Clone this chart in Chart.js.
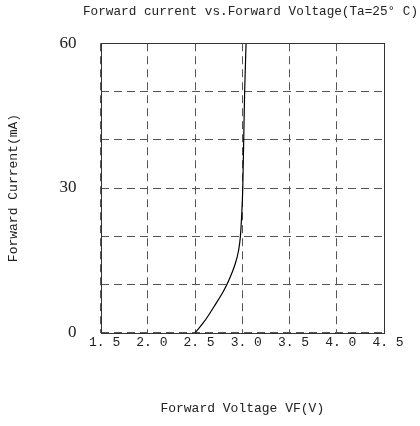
<!DOCTYPE html>
<html>
<head>
<meta charset="utf-8">
<script src="https://cdn.jsdelivr.net/npm/chart.js@4.4.1/dist/chart.umd.min.js"></script>
<style>
html,body{margin:0;padding:0;background:#fff;}
#wrap{width:420px;height:426px;}
</style>
</head>
<body>
<div id="wrap"><canvas id="c" width="420" height="426"></canvas></div>
<script>
const voltage = [2.5, 2.6, 2.7, 2.8, 2.86, 2.92, 2.96, 2.98, 2.995, 3.005, 3.015, 3.025, 3.04];
const current = [0, 2.4, 5.4, 8.6, 11, 14, 17, 20, 25, 30, 40, 50, 60];
const xTickLabels = ['1. 5', '2. 0', '2. 5', '3. 0', '3. 5', '4. 0', '4. 5'];
const yTickLabels = {0: '0', 30: '30', 60: '60'};
const chartTitle = 'Forward current vs.Forward Voltage(Ta=25° C)';
const xTitle = 'Forward Voltage VF(V)';
const yTitle = 'Forward Current(mA)';

const points = voltage.map((v, i) => ({x: v, y: current[i]}));

const frame = {
  id: 'frame',
  afterDatasetsDraw(chart) {
    const a = chart.chartArea, ctx = chart.ctx;
    ctx.save();
    ctx.strokeStyle = '#333';
    ctx.lineWidth = 1;
    ctx.setLineDash([]);
    ctx.strokeRect(Math.round(a.left) + 0.5, Math.round(a.top) + 0.5, Math.round(a.right - a.left), Math.round(a.bottom - a.top));
    ctx.restore();
  }
};

new Chart(document.getElementById('c'), {
  type: 'scatter',
  data: {
    datasets: [{
      data: points,
      showLine: true,
      borderColor: '#000',
      borderWidth: 1.2,
      pointRadius: 0,
      cubicInterpolationMode: 'monotone',
      fill: false
    }]
  },
  options: {
    responsive: false,
    animation: false,
    layout: {padding: {left: 6, right: 2, top: 0, bottom: 10}},
    plugins: {
      legend: {display: false},
      tooltip: {enabled: false},
      title: {
        display: true,
        text: chartTitle,
        align: 'end',
        color: '#222',
        font: {family: 'Liberation Mono', size: 12.7, weight: 'normal'},
        padding: {top: 4, bottom: 24}
      }
    },
    scales: {
      x: {
        type: 'linear',
        min: 1.5, max: 4.5,
        grid: {color: '#555', lineWidth: 1, drawTicks: false},
        border: {display: false, dash: [8, 5]},
        ticks: {
          stepSize: 0.5,
          color: '#222',
          padding: 2,
          labelOffset: 4,
          maxRotation: 0,
          autoSkip: false,
          font: {family: 'Liberation Mono', size: 13},
          callback: (v, i) => xTickLabels[i]
        },
        title: {
          display: true, text: xTitle, color: '#222',
          font: {family: 'Liberation Mono', size: 13},
          padding: {top: 48, bottom: 0}
        }
      },
      y: {
        min: 0, max: 60,
        grid: {color: '#555', lineWidth: 1, drawTicks: false},
        border: {display: false, dash: [8, 5]},
        ticks: {
          stepSize: 10,
          color: '#222',
          padding: 24,
          autoSkip: false,
          font: {family: 'Liberation Serif', size: 17},
          callback: (v) => (yTickLabels[v] !== undefined ? yTickLabels[v] : '')
        },
        title: {
          display: true, text: yTitle, color: '#222',
          font: {family: 'Liberation Mono', size: 13},
          padding: {top: 0, bottom: 14}
        }
      },
      yRight: {
        position: 'right',
        min: 0, max: 60,
        grid: {display: false, drawTicks: false},
        border: {display: false},
        ticks: {display: false},
        afterFit: (s) => { s.width = 34; }
      }
    }
  },
  plugins: [frame]
});
</script>
</body>
</html>
